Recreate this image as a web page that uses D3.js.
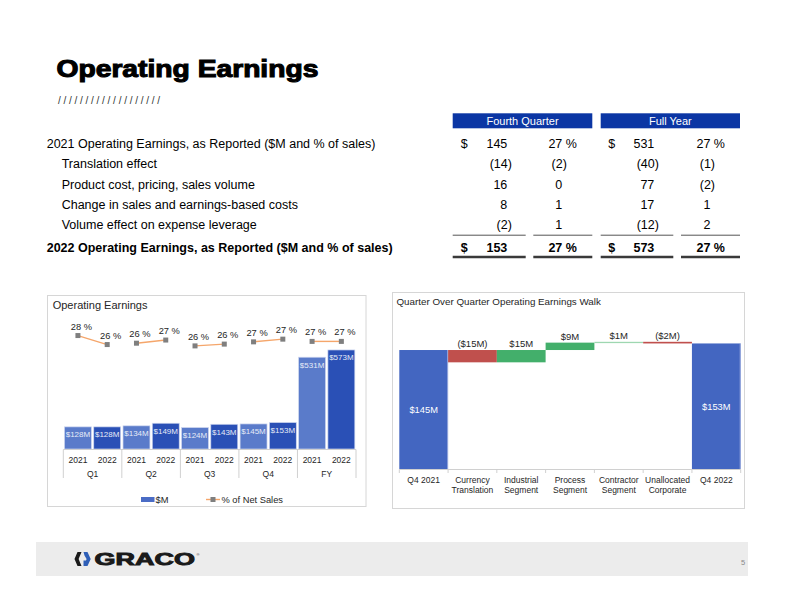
<!DOCTYPE html>
<html><head><meta charset="utf-8">
<script src="https://cdn.jsdelivr.net/npm/d3@7"></script>
<style>body{margin:0;background:#fff}svg{display:block;font-family:"Liberation Sans",Arial,sans-serif}</style>
</head><body><svg id="c" width="792" height="612"></svg>
<script>
// ---------- data ----------
const tableRows = [
  "2021 Operating Earnings, as Reported ($M and % of sales)",
  "Translation effect",
  "Product cost, pricing, sales volume",
  "Change in sales and earnings-based costs",
  "Volume effect on expense leverage",
  "2022 Operating Earnings, as Reported ($M and % of sales)"
];
const tableHeaders = ["Fourth Quarter", "Full Year"];
const fqAmount = [145, -14, 16, 8, -2, 153];
const fqPct = [27, -2, 0, 1, 1, 27];
const fyAmount = [531, -40, 77, 17, -12, 573];
const fyPct = [27, -1, -2, 1, 2, 27];

const quarters = ["Q1", "Q2", "Q3", "Q4", "FY"];
const years = ["2021", "2022"];
const earnings2021 = [128, 134, 124, 145, 531];
const earnings2022 = [128, 149, 143, 153, 573];
const pct2021 = [28.1, 26.4, 25.8, 26.7, 26.8];
const pct2022 = [26.1, 27.1, 26.2, 27.3, 26.8];

const walkCategories = ["Q4 2021", "Currency\nTranslation", "Industrial\nSegment", "Process\nSegment", "Contractor\nSegment", "Unallocated\nCorporate", "Q4 2022"];
const walkValues = [145, -15, 15, 9, 1, -2, 153];
const walkIsTotal = [true, false, false, false, false, false, true];

// ---------- setup ----------
const svg = d3.select("#c");
svg.append("rect").attr("width", 792).attr("height", 612).attr("fill", "#fff");
const txt = "#262626";

// Title
const title = svg.append("text").text("Operating Earnings")
  .attr("font-size", 24.5).attr("font-weight", "bold").attr("fill", "#000")
  .attr("stroke", "#000").attr("stroke-width", 1.1);
const tw = title.node().getComputedTextLength();
title.attr("transform", `translate(56.5,76.5) scale(${262 / tw},1)`);

svg.append("text").text("///////////////////")
  .attr("x", 58).attr("y", 103.5).attr("font-size", 10).attr("fill", "#333")
  .attr("textLength", 102).attr("lengthAdjust", "spacing");

// ---------- table ----------
const rowY = d3.scaleOrdinal().domain(d3.range(6)).range([148, 168.3, 188.6, 208.9, 229.2, 251.5]);
const tfs = 12.5;
const tbl = svg.append("g").attr("font-size", tfs).attr("fill", "#000");

tbl.selectAll("text.lab").data(tableRows).join("text")
  .attr("class", "lab")
  .attr("x", (d, i) => (i === 0 || i === 5) ? 46.7 : 61.7)
  .attr("y", (d, i) => rowY(i))
  .attr("font-weight", (d, i) => i === 5 ? "bold" : "normal")
  .text(d => d);

const headerBoxes = [[452.7, 592.3], [600.7, 740]];
tbl.selectAll("rect.hdr").data(tableHeaders).join("rect")
  .attr("x", (d, i) => headerBoxes[i][0]).attr("y", 113.3)
  .attr("width", (d, i) => headerBoxes[i][1] - headerBoxes[i][0]).attr("height", 15)
  .attr("fill", "#0B36A4");
tbl.selectAll("text.hdr").data(tableHeaders).join("text")
  .attr("x", (d, i) => (headerBoxes[i][0] + headerBoxes[i][1]) / 2).attr("y", 124.7)
  .attr("text-anchor", "middle").attr("fill", "#fff").attr("font-size", 11)
  .text(d => d);

function fmtNum(v) { return v < 0 ? `(${Math.abs(v)})` : `${v}`; }
function numCol(values, right, dollarX, pctSuffix) {
  const g = tbl.append("g");
  values.forEach((v, i) => {
    const bold = i === 5;
    const y = rowY(i);
    g.append("text").attr("x", right + (v < 0 ? 4.6 : 0)).attr("y", y)
      .attr("text-anchor", "end").attr("font-weight", bold ? "bold" : "normal")
      .text(fmtNum(v));
    if (pctSuffix && (i === 0 || i === 5)) {
      g.append("text").attr("x", right).attr("y", y).attr("font-weight", bold ? "bold" : "normal")
        .attr("xml:space", "preserve").text(" %");
    }
    if (dollarX && (i === 0 || i === 5)) {
      g.append("text").attr("x", dollarX).attr("y", y).attr("text-anchor", "middle")
        .attr("font-weight", bold ? "bold" : "normal").text("$");
    }
  });
}
numCol(fqAmount, 507.3, 464.3, false);
numCol(fqPct, 562.3, null, true);
numCol(fyAmount, 654.3, 611.7, false);
numCol(fyPct, 710.4, null, true);

const segs = [[452.7, 525.7], [533.3, 592.3], [600.7, 673.3], [681, 740]];
segs.forEach(s => {
  tbl.append("line").attr("x1", s[0]).attr("x2", s[1]).attr("y1", 235.2).attr("y2", 235.2)
    .attr("stroke", "#555").attr("stroke-width", 1);
  tbl.append("line").attr("x1", s[0]).attr("x2", s[1]).attr("y1", 257).attr("y2", 257)
    .attr("stroke", "#3a3a3a").attr("stroke-width", 2.4);
});

// ---------- left chart ----------
svg.append("rect").attr("x", 47.5).attr("y", 295.5).attr("width", 318.5).attr("height", 211)
  .attr("fill", "#fff").attr("stroke", "#d6d6d6");
svg.append("text").attr("x", 52.7).attr("y", 309).attr("font-size", 11).attr("fill", txt).text("Operating Earnings");

const x0 = d3.scaleBand().domain(quarters).range([63.3, 356]);
const x1 = d3.scaleBand().domain(years).range([0, x0.bandwidth()]).paddingInner(0.08).paddingOuter(0.04);
const yL = d3.scaleLinear().domain([0, 700]).range([449, 328]);
const yP = d3.scaleLinear().domain([24, 30]).range([354, 327]);
const barColor = { "2021": "#5A7BCA", "2022": "#2A50B6" };

const barData = [];
quarters.forEach((q, i) => {
  barData.push({ q, y: "2021", v: earnings2021[i], p: pct2021[i] });
  barData.push({ q, y: "2022", v: earnings2022[i], p: pct2022[i] });
});
const lc = svg.append("g");
lc.selectAll("rect.bar").data(barData).join("rect").attr("class", "bar")
  .attr("x", d => x0(d.q) + x1(d.y)).attr("width", x1.bandwidth())
  .attr("y", d => yL(d.v)).attr("height", d => yL(0) - yL(d.v))
  .attr("fill", d => barColor[d.y]).attr("stroke", "#cdd6ef").attr("stroke-width", 0.7);
lc.selectAll("text.bl").data(barData).join("text").attr("class", "bl")
  .attr("x", d => x0(d.q) + x1(d.y) + x1.bandwidth() / 2).attr("y", d => yL(d.v) + 10.5)
  .attr("text-anchor", "middle").attr("font-size", 8).attr("fill", "#e6ebf7")
  .text(d => `$${d.v}M`);

// axis
const axisG = lc.append("g");
axisG.append("line").attr("x1", x0.range()[0]).attr("x2", x0.range()[1]).attr("y1", 449.5).attr("y2", 449.5)
  .attr("stroke", "#d0d0d0");
const bounds = quarters.map(q => x0(q)).concat([x0.range()[1]]);
axisG.selectAll("line.sep").data(bounds).join("line").attr("class", "sep")
  .attr("x1", d => d).attr("x2", d => d).attr("y1", 449.5).attr("y2", 478)
  .attr("stroke", "#d0d0d0");
axisG.selectAll("text.yr").data(barData).join("text").attr("class", "yr")
  .attr("x", d => x0(d.q) + x1(d.y) + x1.bandwidth() / 2).attr("y", 462.5)
  .attr("text-anchor", "middle").attr("font-size", 8.5).attr("fill", txt).text(d => d.y);
axisG.selectAll("text.qt").data(quarters).join("text").attr("class", "qt")
  .attr("x", d => x0(d) + x0.bandwidth() / 2).attr("y", 476.5)
  .attr("text-anchor", "middle").attr("font-size", 8.5).attr("fill", txt).text(d => d);

// pct lines
const lineCol = "#F5A66B";
quarters.forEach((q, i) => {
  const pts = [{ y: "2021", p: pct2021[i] }, { y: "2022", p: pct2022[i] }];
  lc.append("path").datum(pts)
    .attr("d", d3.line().x(d => x0(q) + x1(d.y) + x1.bandwidth() / 2).y(d => yP(d.p)))
    .attr("fill", "none").attr("stroke", lineCol).attr("stroke-width", 1.4);
});
lc.selectAll("rect.mk").data(barData).join("rect").attr("class", "mk")
  .attr("x", d => x0(d.q) + x1(d.y) + x1.bandwidth() / 2 - 2.5).attr("y", d => yP(d.p) - 2.5)
  .attr("width", 5).attr("height", 5).attr("fill", "#7f7f7f");
lc.selectAll("text.pl").data(barData).join("text").attr("class", "pl")
  .attr("x", d => x0(d.q) + x1(d.y) + x1.bandwidth() / 2 + 3.5).attr("y", d => yP(d.p) - 6)
  .attr("text-anchor", "middle").attr("font-size", 9.3).attr("fill", txt)
  .text(d => `${Math.round(d.p)} %`);

// legend
const lg = svg.append("g");
lg.append("rect").attr("x", 141).attr("y", 497).attr("width", 13.5).attr("height", 5).attr("fill", "#4A6CC5");
lg.append("text").attr("x", 155.5).attr("y", 502.5).attr("font-size", 9.3).attr("fill", txt).text("$M");
lg.append("line").attr("x1", 206).attr("x2", 220).attr("y1", 499.5).attr("y2", 499.5).attr("stroke", lineCol).attr("stroke-width", 1.4);
lg.append("rect").attr("x", 210.5).attr("y", 497).attr("width", 5).attr("height", 5).attr("fill", "#7f7f7f");
lg.append("text").attr("x", 221.5).attr("y", 502.5).attr("font-size", 9.3).attr("fill", txt).text("% of Net Sales");

// ---------- right chart (walk) ----------
svg.append("rect").attr("x", 392.5).attr("y", 292.5).attr("width", 352).attr("height", 216)
  .attr("fill", "#fff").attr("stroke", "#d6d6d6");
svg.append("text").attr("x", 396.5).attr("y", 305).attr("font-size", 9.8).attr("fill", txt)
  .text("Quarter Over Quarter Operating Earnings Walk");

const xW = d3.scaleBand().domain(walkCategories).range([399.3, 740.7]);
const yW = d3.scaleLinear().domain([0, 180]).range([469, 321.3]);
let run = 0;
const walk = walkCategories.map((c, i) => {
  const v = walkValues[i];
  let s, e;
  if (walkIsTotal[i]) { s = 0; e = v; run = v; } else { s = run; e = run + v; run = e; }
  return { c, v, s, e, total: walkIsTotal[i] };
});
const wc = svg.append("g");
wc.selectAll("rect.w").data(walk).join("rect").attr("class", "w")
  .attr("x", d => xW(d.c)).attr("width", xW.bandwidth())
  .attr("y", d => yW(Math.max(d.s, d.e)))
  .attr("height", d => Math.max(1.3, Math.abs(yW(d.s) - yW(d.e))))
  .attr("fill", d => d.total ? "#4366C1" : (d.v < 0 ? "#C0504D" : (Math.abs(d.v) < 2 ? "#9ed7b1" : "#43AF6B")));
wc.selectAll("line.tb").data(walk.filter(d => d.total)).join("line").attr("class", "tb")
  .attr("x1", d => xW(d.c) + xW.bandwidth() - 0.5).attr("x2", d => xW(d.c) + xW.bandwidth() - 0.5)
  .attr("y1", d => yW(d.e)).attr("y2", yW(0)).attr("stroke", "#a9b8e3").attr("stroke-width", 0.8);
wc.selectAll("text.wl").data(walk.filter(d => !d.total)).join("text").attr("class", "wl")
  .attr("x", d => xW(d.c) + xW.bandwidth() / 2).attr("y", d => yW(Math.max(d.s, d.e)) - 2.6)
  .attr("text-anchor", "middle").attr("font-size", 9.5).attr("fill", txt)
  .text(d => d.v < 0 ? `($${Math.abs(d.v)}M)` : `$${d.v}M`);
wc.selectAll("text.tl").data(walk.filter(d => d.total)).join("text").attr("class", "tl")
  .attr("x", d => xW(d.c) + xW.bandwidth() / 2).attr("y", d => (yW(d.e) + yW(0)) / 2 + 3.3)
  .attr("text-anchor", "middle").attr("font-size", 9.3).attr("fill", "#fff")
  .text(d => `$${d.v}M`);
// axis
wc.append("line").attr("x1", 399.3).attr("x2", 740.7).attr("y1", 469.5).attr("y2", 469.5).attr("stroke", "#d0d0d0");
const wb = walkCategories.map(c => xW(c)).concat([xW.range()[1]]);
wc.selectAll("line.wt").data(wb).join("line").attr("class", "wt")
  .attr("x1", d => d).attr("x2", d => d).attr("y1", 469.5).attr("y2", 473).attr("stroke", "#d0d0d0");
wc.selectAll("text.wx").data(walkCategories).join("text").attr("class", "wx")
  .attr("text-anchor", "middle").attr("font-size", 8.5).attr("fill", txt)
  .each(function (c) {
    const t = d3.select(this);
    c.split("\n").forEach((ln, k) => {
      t.append("tspan").attr("x", xW(c) + xW.bandwidth() / 2).attr("y", 483 + k * 9.5).text(ln);
    });
  });

// ---------- footer ----------
svg.append("rect").attr("x", 36).attr("y", 542).attr("width", 712).attr("height", 34).attr("fill", "#ececec");
svg.append("text").attr("x", 743).attr("y", 565).attr("text-anchor", "middle").attr("font-size", 7.5).attr("fill", "#8a8a8a").text("5");
// logo chevrons
svg.append("path").attr("d", "M81.5,552 L77.5,552 L74.5,559 L77.5,566 L81.5,566 L78.6,559 Z").attr("fill", "#1a1a1a");
svg.append("path").attr("d", "M83.5,552 L87.5,552 L90.7,559 L87.5,566 L83.5,566 L83.5,560.5 L86,560.5 L86.6,559 L84.5,555.5 Z").attr("fill", "#2f5fb7");
const logo = svg.append("text").text("GRACO").attr("font-size", 16.3).attr("font-weight", "bold")
  .attr("fill", "#1a1a1a").attr("stroke", "#1a1a1a").attr("stroke-width", 0.9);
const lw = logo.node().getComputedTextLength();
logo.attr("transform", `translate(94.6,565) scale(${100.3 / lw},1)`);
svg.append("text").attr("x", 196.5).attr("y", 556).attr("font-size", 4).attr("fill", "#333").text("®");
</script></body></html>
